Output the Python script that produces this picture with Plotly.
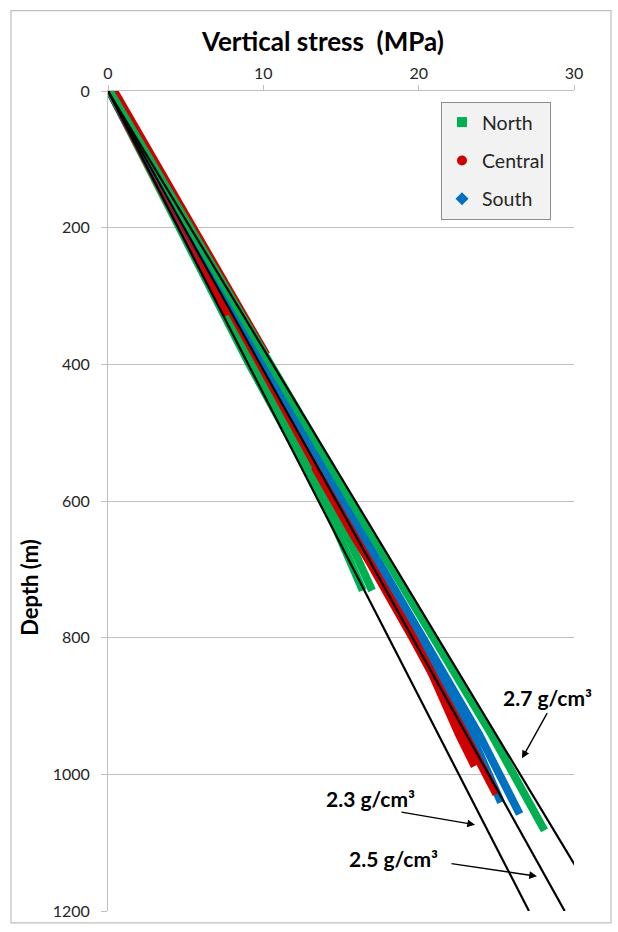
import plotly.graph_objects as go

# ---------------- data ----------------
# North wells (green)
north_a_depth = [0, 200, 400, 600, 800, 942, 1082]
north_a_stress = [0.1, 5.25, 10.45, 15.65, 20.95, 24.7, 28.1]
north_b_depth = [0, 200, 400, 600, 731]
north_b_stress = [0.1, 4.6, 9.1, 13.9, 16.4]
north_c_depth = [0, 200, 400, 600, 731]
north_c_stress = [0.1, 4.7, 9.4, 14.4, 17.0]

# Central wells (red)
central_a_depth = [0, 200, 400, 600, 800, 942, 1029]
central_a_stress = [0.1, 5.0, 9.8, 14.6, 19.6, 23.0, 25.0]
central_b_depth = [550, 650, 750, 850, 942, 988]
central_b_stress = [13.3, 15.8, 18.5, 20.8, 22.6, 23.6]
central_c_depth = [0, 216, 386]
central_c_stress = [0.4, 5.9, 10.2]
central_d_depth = [0, 328]
central_d_stress = [0.1, 7.7]

# South wells (blue)
south_a_depth = [0, 200, 400, 600, 800, 942, 1058]
south_a_stress = [0.1, 5.05, 10.1, 15.15, 20.2, 23.9, 26.5]
south_b_depth = [0, 200, 400, 600, 800, 942, 1041]
south_b_stress = [0.1, 4.9, 9.9, 14.8, 19.9, 23.4, 25.3]

# Reference density lines (black)
ref_labels = ["2.3 g/cm³", "2.5 g/cm³", "2.7 g/cm³"]
ref_depth = [[0, 1200], [0, 1200], [0, 1142]]
ref_stress = [[0, 27.1], [0, 29.4], [0, 30.3]]

x_ticks = [0, 10, 20, 30]
y_ticks = [0, 200, 400, 600, 800, 1000, 1200]

series_names = ["North", "Central", "South"]
series_colors = ["#00b050", "#d00000", "#0070c0"]
series_symbols = ["square", "circle", "diamond"]
GREEN, RED, BLUE = series_colors

FONT = "Lato"

fig = go.Figure()

# drawing order of the individual wells
wells = [
    (north_b_stress, north_b_depth, GREEN),
    (north_c_stress, north_c_depth, GREEN),
    (central_d_stress, central_d_depth, RED),
    (central_c_stress, central_c_depth, RED),
    (south_b_stress, south_b_depth, BLUE),
    (central_b_stress, central_b_depth, RED),
    (central_a_stress, central_a_depth, RED),
    (south_a_stress, south_a_depth, BLUE),
    (north_a_stress, north_a_depth, GREEN),
]
for xs, ys, color in wells:
    fig.add_trace(go.Scatter(x=xs, y=ys, mode="lines", showlegend=False,
                             line=dict(color=color, width=8), hoverinfo="skip"))

for xs, ys in zip(ref_stress, ref_depth):
    fig.add_trace(go.Scatter(x=xs, y=ys, mode="lines", showlegend=False,
                             line=dict(color="black", width=2.2), hoverinfo="skip"))

# legend entries
for name, color, sym in zip(series_names, series_colors, series_symbols):
    fig.add_trace(go.Scatter(x=[None], y=[None], mode="markers", name=name,
                             legendgroup=name,
                             marker=dict(color=color, symbol=sym, size=10)))

# helpers to convert picture pixels to data values for labels/arrows
def px_x(p):
    return (p - 108) / (466 / 30)

def px_y(p):
    return (p - 91) / (827 / 1200)

annotations = []
annotations.append(dict(text="Vertical stress\u00a0 (MPa)", xref="paper", yref="paper",
                        x=(322 - 108) / 466, y=(918 - 41) / 827, showarrow=False,
                        xanchor="center", yanchor="middle",
                        font=dict(family=FONT, size=26, color="black", weight="bold")))
annotations.append(dict(text="Depth (m)", xref="paper", yref="paper",
                        x=(30 - 108) / 466, y=(918 - 592) / 827, showarrow=False,
                        textangle=-90, xanchor="center", yanchor="middle",
                        font=dict(family=FONT, size=22, color="black", weight="bold")))

label_pos = [(370, 805), (393, 865), (547, 703)]
arrows = [((400, 818), (475, 831)), ((450, 870), (537, 883)), ((548, 717), (522, 764))]
for lab, (tx, ty), (tail, head) in zip(ref_labels, label_pos, arrows):
    annotations.append(dict(text=lab, x=px_x(tx), y=px_y(ty), xref="x", yref="y",
                            showarrow=False, xanchor="center", yanchor="middle",
                            font=dict(family=FONT, size=21, color="black", weight="bold")))
    annotations.append(dict(text="", x=px_x(head[0]), y=px_y(head[1]), xref="x", yref="y",
                            ax=px_x(tail[0]), ay=px_y(tail[1]), axref="x", ayref="y",
                            showarrow=True, arrowhead=2, arrowsize=1.1, arrowwidth=1.4,
                            arrowcolor="black", standoff=0, startstandoff=0))

border = dict(type="rect", xref="paper", yref="paper",
              x0=(11 - 108) / 466, x1=(611 - 108) / 466,
              y0=(918 - 930) / 827, y1=(918 - 10) / 827,
              line=dict(color="#bfbfbf", width=1.2), fillcolor="rgba(0,0,0,0)", layer="below")

fig.update_layout(
    width=618, height=932,
    margin=dict(l=108, r=44, t=91, b=14),
    paper_bgcolor="white", plot_bgcolor="white",
    font=dict(family=FONT, color="#262626"),
    annotations=annotations,
    shapes=[border],
    showlegend=True,
    legend=dict(x=(441 - 108) / 466, y=(918 - 102) / 827, xanchor="left", yanchor="top",
                bgcolor="#f2f2f2", bordercolor="#8c8c8c", borderwidth=1,
                font=dict(family=FONT, size=19.5, color="#262626"),
                tracegroupgap=10, itemwidth=30,
                entrywidth=106, entrywidthmode="pixels"),
    xaxis=dict(side="top", range=[0, 30], tickvals=x_ticks, ticktext=[str(v) for v in x_ticks],
               showgrid=False, zeroline=False, showline=True, linecolor="#bfbfbf", linewidth=1,
               ticks="outside", ticklen=5, tickcolor="#bfbfbf",
               tickfont=dict(family=FONT, size=16, color="#262626")),
    yaxis=dict(range=[1200, 0], tickvals=y_ticks, ticktext=[str(v) for v in y_ticks],
               showgrid=True, gridcolor="#bfbfbf", gridwidth=1, zeroline=False,
               showline=True, linecolor="#bfbfbf", linewidth=1,
               ticks="outside", ticklen=6, tickcolor="#bfbfbf", ticklabelstandoff=8,
               tickfont=dict(family=FONT, size=16, color="#262626")),
)

fig.write_html("out.html")
